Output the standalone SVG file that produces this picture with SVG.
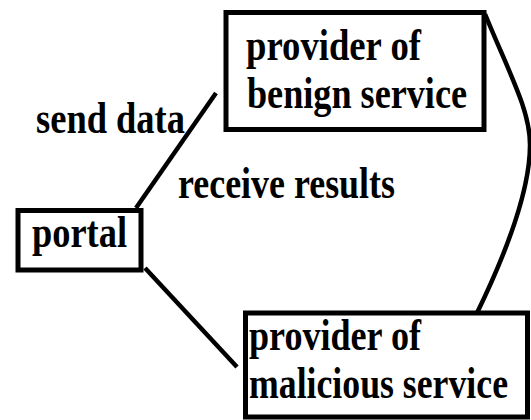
<svg xmlns="http://www.w3.org/2000/svg" width="531" height="420" viewBox="0 0 531 420">
<style>
.box{fill:#fff;stroke:#000;stroke-width:5}
.conn{fill:none;stroke:#000;stroke-width:4.5}
text{font-family:"Liberation Serif","Times New Roman",serif;font-weight:bold;font-size:45px;fill:#000}
</style>
<rect width="531" height="420" fill="#fff"/>
<g id="connectors">
<path class="conn" d="M216 93 L136 208"/>
<path class="conn" d="M145 268 L237 367"/>
<path class="conn" d="M485 14 C510 75 530 110 530 145 C530 185 510 245 477 313"/>
</g>
<g id="benign">
<rect class="box" x="226" y="12.5" width="258" height="117"/>
<text x="246" y="60" textLength="175" lengthAdjust="spacingAndGlyphs">provider of</text>
<text x="247" y="108" textLength="220" lengthAdjust="spacingAndGlyphs">benign service</text>
</g>
<g id="portal">
<rect class="box" x="18" y="210.5" width="123" height="59.5"/>
<text x="32" y="247" textLength="95" lengthAdjust="spacingAndGlyphs">portal</text>
</g>
<g id="malicious">
<rect class="box" x="245.5" y="313" width="282" height="104"/>
<text x="249" y="350" textLength="172" lengthAdjust="spacingAndGlyphs">provider of</text>
<text x="249" y="398" textLength="259" lengthAdjust="spacingAndGlyphs">malicious service</text>
</g>
<g id="labels">
<text x="36" y="133" textLength="149" lengthAdjust="spacingAndGlyphs">send data</text>
<text x="178" y="198" textLength="217" lengthAdjust="spacingAndGlyphs">receive results</text>
</g>
</svg>
